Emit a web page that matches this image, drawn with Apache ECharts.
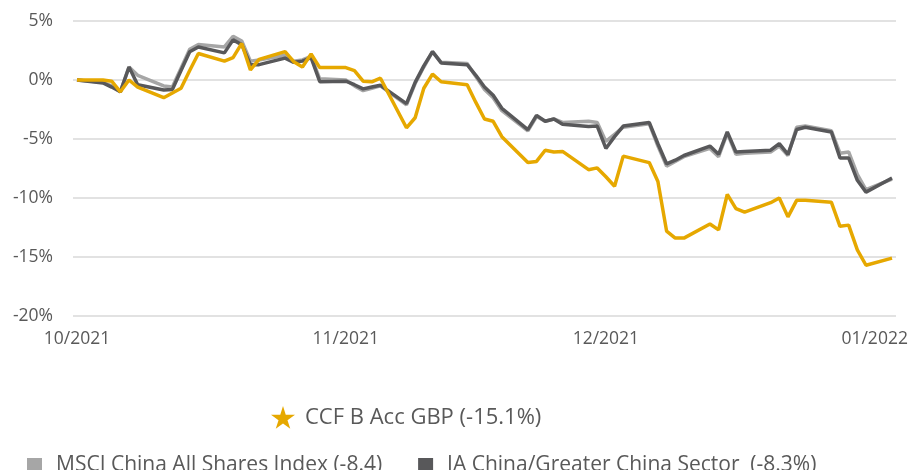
<!DOCTYPE html>
<html>
<head>
<meta charset="utf-8">
<script src="https://cdn.jsdelivr.net/npm/echarts@6/dist/echarts.min.js"></script>
<style>
  html, body { margin: 0; padding: 0; background: #fff; }
  #chart { width: 923px; height: 470px; }
</style>
</head>
<body>
<div id="chart"></div>
<script>
const dates = [
  "2021-10-01", "2021-10-04", "2021-10-05", "2021-10-06", "2021-10-07", "2021-10-08",
  "2021-10-11", "2021-10-12", "2021-10-13", "2021-10-14", "2021-10-15",
  "2021-10-18", "2021-10-19", "2021-10-20", "2021-10-21", "2021-10-22",
  "2021-10-25", "2021-10-26", "2021-10-27", "2021-10-28", "2021-10-29",
  "2021-11-01", "2021-11-02", "2021-11-03", "2021-11-04", "2021-11-05",
  "2021-11-08", "2021-11-09", "2021-11-10", "2021-11-11", "2021-11-12",
  "2021-11-15", "2021-11-16", "2021-11-17", "2021-11-18", "2021-11-19",
  "2021-11-22", "2021-11-23", "2021-11-24", "2021-11-25", "2021-11-26",
  "2021-11-29", "2021-11-30", "2021-12-01", "2021-12-02", "2021-12-03",
  "2021-12-06", "2021-12-07", "2021-12-08", "2021-12-09", "2021-12-10",
  "2021-12-13", "2021-12-14", "2021-12-15", "2021-12-16", "2021-12-17",
  "2021-12-20", "2021-12-21", "2021-12-22", "2021-12-23", "2021-12-24",
  "2021-12-27", "2021-12-28", "2021-12-29", "2021-12-30", "2021-12-31",
  "2022-01-03"
];

const ccfValues = [
  0, 0, -0.1, -1.0, 0, -0.6,
  -1.5, -1.1, -0.7, 0.8, 2.25,
  1.6, 1.9, 3.1, 0.85, 1.75,
  2.4, 1.55, 1.1, 2.2, 1.05,
  1.05, 0.8, -0.1, -0.15, 0.15,
  -4.05, -3.2, -0.7, 0.5, -0.15,
  -0.4, -1.9, -3.3, -3.5, -4.8,
  -7.0, -6.9, -5.95, -6.1, -6.05,
  -7.6, -7.45, -8.2, -9.0, -6.45,
  -7.0, -8.6, -12.8, -13.4, -13.4,
  -12.2, -12.7, -9.7, -10.9, -11.2,
  -10.4, -10.0, -11.6, -10.2, -10.2,
  -10.35, -12.4, -12.3, -14.4, -15.7,
  -15.1
];

const msciValues = [
  0, -0.2, -0.5, -1.0, 1.1, 0.4,
  -0.5, -0.6, 1.0, 2.6, 3.0,
  2.8, 3.7, 3.3, 1.6, 1.7,
  2.1, 1.6, 1.7, 2.0, 0.1,
  0, -0.5, -0.9, -0.7, -0.5,
  -2.1, -0.3, 1.1, 2.4, 1.5,
  1.4, 0.3, -0.8, -1.5, -2.6,
  -4.3, -3.1, -3.5, -3.3, -3.6,
  -3.5, -3.6, -5.2, -4.6, -4.0,
  -3.7, -5.6, -7.3, -6.9, -6.5,
  -5.8, -6.5, -4.5, -6.3, -6.2,
  -6.1, -5.6, -6.4, -4.0, -3.9,
  -4.3, -6.2, -6.1, -8.0, -9.3,
  -8.4
];

const iaValues = [
  0, -0.25, -0.6, -1.0, 1.1, -0.4,
  -0.85, -0.8, 0.8, 2.4, 2.8,
  2.3, 3.4, 3.0, 1.3, 1.3,
  1.85, 1.5, 1.6, 1.9, -0.15,
  -0.1, -0.4, -0.75, -0.6, -0.45,
  -2.0, -0.2, 1.2, 2.4, 1.45,
  1.3, 0.4, -0.6, -1.3, -2.4,
  -4.2, -3.0, -3.5, -3.3, -3.75,
  -3.95, -3.9, -5.8, -4.8, -3.9,
  -3.6, -5.4, -7.1, -6.8, -6.4,
  -5.6, -6.3, -4.4, -6.1, -6.05,
  -5.95, -5.4, -6.3, -4.2, -4.0,
  -4.4, -6.6, -6.6, -8.5, -9.5,
  -8.3
];

const seriesNames = [
  "CCF B Acc GBP (-15.1%)",
  "MSCI China All Shares Index (-8.4)",
  "IA China/Greater China Sector  (-8.3%)"
];

const monthTicks = ["2021-10-01", "2021-11-01", "2021-12-01", "2022-01-01"];
const monthLabels = ["10/2021", "11/2021", "12/2021", "01/2022"];

const gold = "#e6a800";
const lightGrey = "#a6a6a6";
const darkGrey = "#58585a";
const starIcon = "path://M50,0 L61,35 L98,35 L68,57 L79,91 L50,70 L21,91 L32,57 L2,35 L39,35 Z";

const DAY = 24 * 3600 * 1000;
const toTime = (d) => new Date(d + "T00:00:00Z").getTime();
const pairs = (values) => dates.map((d, i) => [toTime(d), values[i]]);
const tickTimes = monthTicks.map(toTime);

const chart = echarts.init(document.getElementById("chart"), null, { renderer: "canvas" });

const labelStyle = { color: "#595959", fontSize: 17.5, fontFamily: "Open Sans" };
const legendText = { color: "#595959", fontSize: 21, fontFamily: "Open Sans" };

chart.setOption({
  backgroundColor: "#fff",
  animation: false,
  grid: { left: 73, right: 27, top: 21, bottom: 154 },
  legend: [
    {
      data: [{ name: seriesNames[0], icon: starIcon }],
      left: 266,
      top: 401,
      itemWidth: 24,
      itemHeight: 23,
      textStyle: { ...legendText, fontSize: 22, padding: [0, 0, 0, 5] },
      selectedMode: false,
    },
    {
      data: [
        { name: seriesNames[1], icon: "rect" },
        { name: seriesNames[2], icon: "rect" },
      ],
      left: 22,
      top: 450,
      itemWidth: 15,
      itemHeight: 15,
      itemGap: 36,
      textStyle: { ...legendText, padding: [0, 0, 0, 9] },
      selectedMode: false,
    },
  ],
  xAxis: {
    type: "value",
    min: toTime(dates[0]) - 0.46 * DAY,
    max: toTime(dates[dates.length - 1]) + 0.46 * DAY,
    axisLine: { show: false },
    axisTick: { show: false },
    splitLine: { show: false },
    axisLabel: {
      ...labelStyle,
      margin: 14,
      customValues: tickTimes,
      formatter: (v) => {
        const i = tickTimes.indexOf(v);
        return i >= 0 ? monthLabels[i] : "";
      },
      hideOverlap: false,
    },
  },
  yAxis: {
    type: "value",
    min: -20,
    max: 5,
    interval: 5,
    axisLine: { show: false },
    axisTick: { show: false },
    splitLine: { lineStyle: { color: "#d9d9d9", width: 1.5 } },
    axisLabel: { ...labelStyle, margin: 20, formatter: (v) => v + "%" },
  },
  series: [
    {
      name: seriesNames[1],
      type: "line",
      data: pairs(msciValues),
      symbol: "none",
      itemStyle: { color: lightGrey },
      lineStyle: { color: lightGrey, width: 3.5 },
      z: 2,
    },
    {
      name: seriesNames[2],
      type: "line",
      data: pairs(iaValues),
      symbol: "none",
      itemStyle: { color: darkGrey },
      lineStyle: { color: darkGrey, width: 3.5 },
      z: 3,
    },
    {
      name: seriesNames[0],
      type: "line",
      data: pairs(ccfValues),
      symbol: "none",
      itemStyle: { color: gold },
      lineStyle: { color: gold, width: 3.5 },
      z: 4,
    },
  ],
});
</script>
</body>
</html>
